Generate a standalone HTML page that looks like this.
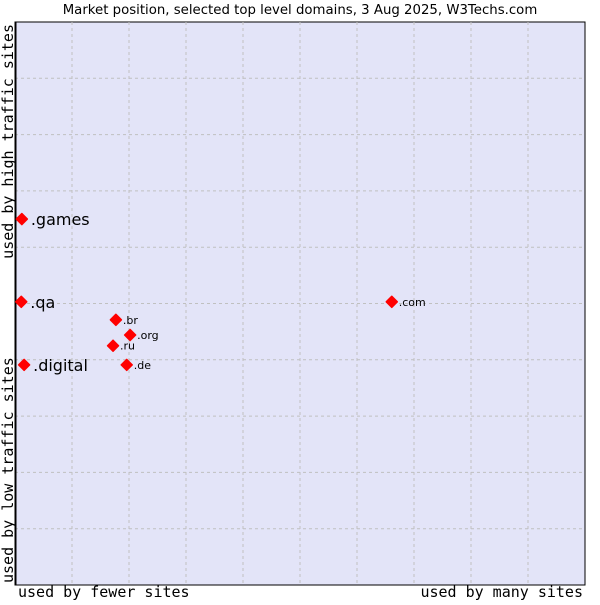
<!DOCTYPE html>
<html><head><meta charset="utf-8"><style>
body{margin:0;background:#fff;width:600px;height:600px;overflow:hidden}
</style></head><body>
<svg id="chart" width="600" height="600" xmlns="http://www.w3.org/2000/svg">
<text x="300" y="14" text-anchor="middle" font-family="DejaVu Sans, sans-serif" font-size="13.3" fill="#000">Market position, selected top level domains, 3 Aug 2025, W3Techs.com</text>
<rect x="15" y="22" width="570" height="563" fill="#e3e4f8" stroke="#000" stroke-width="1"/>
<g id="grid"></g>
<line x1="15.5" y1="22" x2="15.5" y2="585" stroke="#000" stroke-width="2"/>
<text x="18" y="597" font-family="DejaVu Sans Mono, monospace" font-size="15" fill="#000">used by fewer sites</text>
<text x="583" y="597" text-anchor="end" font-family="DejaVu Sans Mono, monospace" font-size="15" fill="#000">used by many sites</text>
<text transform="translate(13,24) rotate(-90)" text-anchor="end" font-family="DejaVu Sans Mono, monospace" font-size="15" fill="#000">used by high traffic sites</text>
<text transform="translate(13,583) rotate(-90)" font-family="DejaVu Sans Mono, monospace" font-size="15" fill="#000">used by low traffic sites</text>
<g id="points"></g>
</svg>
<script>
const domains = [".games", ".qa", ".digital", ".com", ".br", ".org", ".ru", ".de"];
const usage = [0.12, 0.11, 0.16, 6.61, 1.77, 2.02, 1.72, 1.96];
const traffic = [6.5, 5.03, 3.91, 5.03, 4.71, 4.44, 4.25, 3.91];
const largeLabel = [true, true, true, false, false, false, false, false];
const NS = "http://www.w3.org/2000/svg";
const X0 = 15, X1 = 585, Y0 = 585, Y1 = 22;
function xs(v){ return X0 + v / 10 * (X1 - X0); }
function ys(v){ return Y0 - v / 10 * (Y0 - Y1); }
const grid = document.getElementById("grid");
for (let i = 1; i < 10; i++) {
  const lv = document.createElementNS(NS, "line");
  
  
  lv.setAttribute("x1", xs(i)); lv.setAttribute("x2", xs(i));
  lv.setAttribute("y1", Y1); lv.setAttribute("y2", Y0);
  lv.setAttribute("stroke", "#c0c0c0"); lv.setAttribute("stroke-dasharray", "3,3");
  grid.appendChild(lv);
  const lh = document.createElementNS(NS, "line");
  
  
  lh.setAttribute("x1", X0); lh.setAttribute("x2", X1);
  lh.setAttribute("y1", ys(i)); lh.setAttribute("y2", ys(i));
  lh.setAttribute("stroke", "#c0c0c0"); lh.setAttribute("stroke-dasharray", "3,3");
  grid.appendChild(lh);
}
const pts = document.getElementById("points");
domains.forEach((d, i) => {
  const x = xs(usage[i]), y = ys(traffic[i]);
  const p = document.createElementNS(NS, "polygon");
  
  
  p.setAttribute("points", `${x},${y-5.5} ${x+5.5},${y} ${x},${y+5.5} ${x-5.5},${y}`);
  p.setAttribute("fill", "#ff0000");
  p.setAttribute("stroke", "#ff0000");
  p.setAttribute("stroke-width", "1.5");
  p.setAttribute("stroke-linejoin", "round");
  pts.appendChild(p);
  const t = document.createElementNS(NS, "text");
  
  
  const big = largeLabel[i];
  t.setAttribute("x", x + (big ? 9 : 7));
  t.setAttribute("y", y + (big ? 6 : 4));
  t.setAttribute("font-family", "DejaVu Sans, sans-serif");
  t.setAttribute("font-size", big ? 16 : 11);
  t.textContent = d;
  pts.appendChild(t);
});
</script>
</body></html>
